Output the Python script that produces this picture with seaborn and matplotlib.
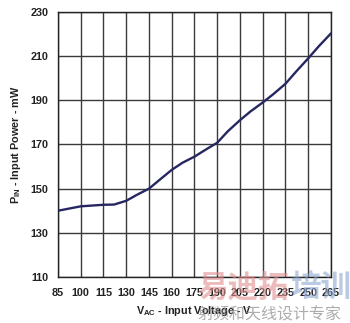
import matplotlib
matplotlib.use("Agg")
import matplotlib.pyplot as plt
import seaborn as sns
import pandas as pd

voltage = [85, 100, 115, 122, 130, 137, 145, 152, 160, 167, 175, 182, 190, 197, 205, 212, 220, 227, 235, 242, 250, 257, 265]
power = [140.0, 142.0, 142.7, 142.8, 144.5, 147.2, 150.0, 154.0, 158.5, 161.7, 164.5, 167.5, 170.8, 176.0, 181.0, 185.0, 189.0, 192.8, 197.5, 203.0, 209.0, 214.5, 220.3]
x_ticks = [85, 100, 115, 130, 145, 160, 175, 190, 205, 220, 235, 250, 265]
y_ticks = [110, 130, 150, 170, 190, 210, 230]

sns.set_style("white")
plt.rcParams['font.family'] = ['Liberation Sans', 'Noto Sans CJK SC', 'DejaVu Sans']

df = pd.DataFrame({"V": voltage, "P": power})

fig = plt.figure(figsize=(3.5, 3.23), dpi=100)
ax = fig.add_axes([0.1657, 0.1424, 0.78, 0.8206])

for xv in x_ticks:
    ax.axvline(xv, color="#3a3a3a", lw=1.0, zorder=1)
for yv in y_ticks:
    ax.axhline(yv, color="#3a3a3a", lw=1.0, zorder=1)

sns.lineplot(data=df, x="V", y="P", ax=ax, color="#262660", lw=1.7, zorder=3)

ax.set_xlim(85, 265)
ax.set_ylim(110, 230)
ax.set_xticks(x_ticks)
ax.set_yticks(y_ticks)
ax.set_xticklabels([str(v) for v in x_ticks], fontsize=7.8, fontweight="bold", color="#222222")
ax.set_yticklabels([str(v) for v in y_ticks], fontsize=7.8, fontweight="bold", color="#222222")
ax.tick_params(axis="both", length=0)
ax.tick_params(axis="x", pad=8)
ax.tick_params(axis="y", pad=7)
for s in ax.spines.values():
    s.set_color("#222222")
    s.set_linewidth(1.0)

ax.set_xlabel(r"V$_{\mathregular{AC}}$ - Input Voltage - V", fontsize=7.8, fontweight="bold", color="#222222", labelpad=4)
ax.set_ylabel(r"P$_{\mathregular{IN}}$ - Input Power - mW", fontsize=7.8, fontweight="bold", color="#222222", labelpad=5)

# watermark
wm = ['Noto Sans CJK SC', 'DejaVu Sans']
fig.text(197/350, 1 - 288/323, "易迪拓", fontsize=22, fontweight="bold", color="#e28f8f", alpha=0.6,
         va="center", ha="left", family=wm)
fig.text(290/350, 1 - 288/323, "培训", fontsize=22, fontweight="bold", color="#8fa9d2", alpha=0.6,
         va="center", ha="left", family=wm)
fig.text(197/350, 1 - 315/323, "射频和天线设计专家", fontsize=11.5, color="#8a8a8a", alpha=0.7,
         va="center", ha="left", family=wm)

fig.savefig("out.png", dpi=100)
